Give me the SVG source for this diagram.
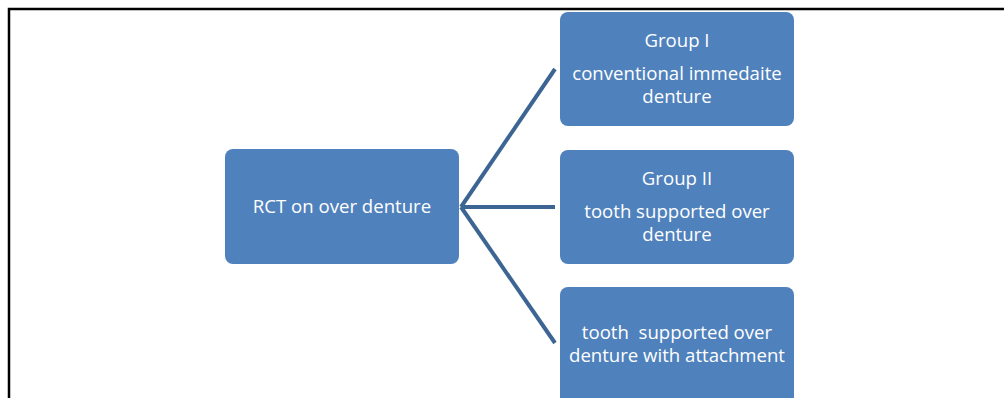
<svg xmlns="http://www.w3.org/2000/svg" width="1004" height="398" viewBox="0 0 1004 398">
<style>
.box{fill:#4f81bd;}
.t{font-family:"Open Sans","Liberation Sans",sans-serif;font-size:18.6px;fill:#ffffff;text-anchor:middle;white-space:pre;}
.c{stroke:#3d6594;stroke-width:4;fill:none;}
</style>
<rect width="1004" height="398" fill="#ffffff"/>
<path d="M9 398 V9 H1004" fill="none" stroke="#000000" stroke-width="2.5"/>
<g id="connectors">
<line class="c" x1="461" y1="207" x2="555" y2="69"/>
<line class="c" x1="461" y1="207" x2="555" y2="207"/>
<line class="c" x1="461" y1="207" x2="555" y2="343"/>
</g>
<g id="root">
<rect class="box" x="225" y="149" width="234" height="115" rx="8"/>
<text class="t" x="342" y="213">RCT on over denture</text>
</g>
<g id="group1">
<rect class="box" x="560" y="12" width="234" height="114" rx="8"/>
<text class="t" x="677" y="47">Group I</text>
<text class="t" x="677" y="80">conventional immedaite</text>
<text class="t" x="677" y="103">denture</text>
</g>
<g id="group2">
<rect class="box" x="560" y="150" width="234" height="114" rx="8"/>
<text class="t" x="677" y="185">Group II</text>
<text class="t" x="677" y="218">tooth supported over</text>
<text class="t" x="677" y="241">denture</text>
</g>
<g id="group3">
<rect class="box" x="560" y="287" width="234" height="120" rx="8"/>
<text class="t" x="677" y="339" xml:space="preserve">tooth  supported over</text>
<text class="t" x="677" y="362">denture with attachment</text>
</g>
</svg>
